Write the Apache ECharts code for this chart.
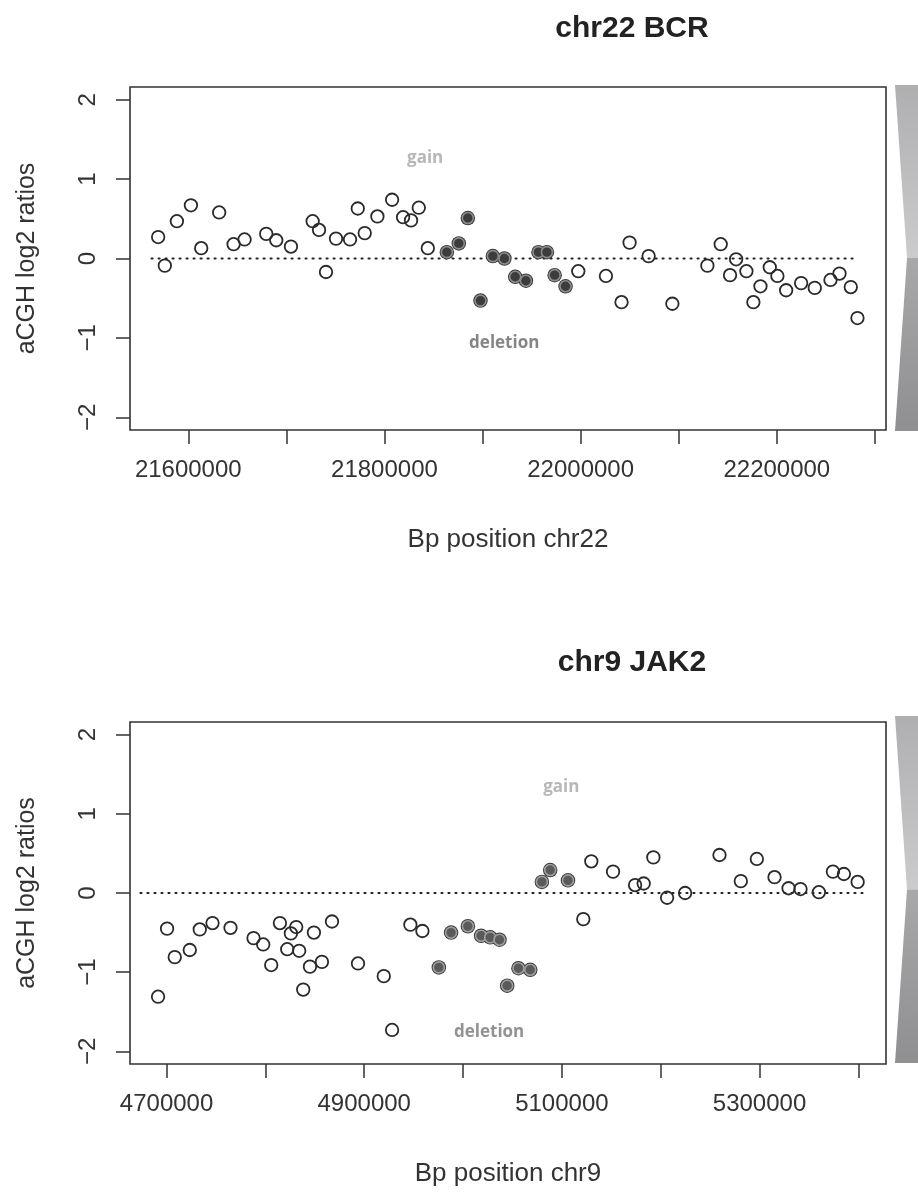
<!DOCTYPE html>
<html>
<head>
<meta charset="utf-8">
<script src="https://cdn.jsdelivr.net/npm/echarts@6/dist/echarts.min.js"></script>
<style>html,body{margin:0;padding:0;background:#fff;}#c{width:918px;height:1192px;}</style>
</head>
<body>
<div id="c"></div>
<script>
// ---------- DATA ----------
// chr22 BCR panel
const bcrOpenX = [21569300, 21576100, 21588400, 21602700, 21613200, 21631500, 21646200, 21657400, 21679500, 21689700, 21704700, 21726800, 21733300, 21740400, 21750600, 21764900, 21772800, 21779900, 21792800, 21807800, 21819000, 21827100, 21835000, 21844200,
  21997600, 22025800, 22041700, 22049900, 22069300, 22093500, 22129200, 22142800, 22152300, 22158500, 22169000, 22176100, 22183300, 22192800, 22200600, 22209500, 22224800, 22238700, 22254700, 22263900, 22275400, 22282200];
const bcrOpenY = [0.27, -0.09, 0.47, 0.67, 0.13, 0.58, 0.18, 0.24, 0.31, 0.23, 0.15, 0.47, 0.36, -0.17, 0.25, 0.24, 0.63, 0.32, 0.53, 0.74, 0.52, 0.48, 0.64, 0.13,
  -0.16, -0.22, -0.55, 0.20, 0.03, -0.57, -0.09, 0.18, -0.21, -0.01, -0.16, -0.55, -0.35, -0.11, -0.22, -0.40, -0.31, -0.37, -0.27, -0.19, -0.36, -0.75];
const bcrFilledX = [21863600, 21875800, 21885000, 21897900, 21910500, 21922300, 21933300, 21944200, 21957000, 21965600, 21973500, 21984600];
const bcrFilledY = [0.08, 0.19, 0.51, -0.53, 0.03, 0.00, -0.23, -0.28, 0.08, 0.08, -0.21, -0.35];
const bcrZeroLineX = [21562600, 22280300];
const bcrXRange = [21540600, 22311300];
const bcrXTicks = [21600000, 21700000, 21800000, 21900000, 22000000, 22100000, 22200000, 22300000];
const bcrXLabels = [21600000, 21800000, 22000000, 22200000];
const bcrAnnotX = [21841500, 21922100];
const bcrAnnotY = [1.27, -1.07];

// chr9 JAK2 panel
const jakOpenX = [4691400, 4700500, 4708300, 4723500, 4733600, 4746500, 4764700, 4788000, 4797800, 4805900, 4814700, 4822100, 4825800, 4831200, 4834200, 4838300, 4845100, 4849100, 4857200, 4867400, 4893700, 4919800, 4928200, 4946700, 4958900,
  5121700, 5129800, 5151800, 5174100, 5182800, 5192600, 5206500, 5224700, 5259500, 5281100, 5297300, 5315200, 5329400, 5341500, 5360100, 5374300, 5385400, 5399300];
const jakOpenY = [-1.31, -0.45, -0.81, -0.72, -0.46, -0.38, -0.44, -0.57, -0.65, -0.91, -0.38, -0.71, -0.51, -0.43, -0.73, -1.22, -0.93, -0.50, -0.87, -0.36, -0.89, -1.05, -1.73, -0.40, -0.48,
  -0.33, 0.40, 0.27, 0.10, 0.12, 0.45, -0.06, 0.00, 0.48, 0.15, 0.43, 0.20, 0.06, 0.05, 0.01, 0.27, 0.24, 0.14];
const jakFilledX = [4975500, 4987900, 5004900, 5018300, 5027500, 5036900, 5044700, 5056100, 5068000, 5079800, 5088200, 5106200];
const jakFilledY = [-0.94, -0.50, -0.42, -0.54, -0.56, -0.59, -1.17, -0.95, -0.97, 0.14, 0.29, 0.16];
const jakZeroLineX = [4673600, 5407400];
const jakXRange = [4663000, 5428000];
const jakXTicks = [4700000, 4800000, 4900000, 5000000, 5100000, 5200000, 5300000, 5400000];
const jakXLabels = [4700000, 4900000, 5100000, 5300000];
const jakAnnotX = [5099400, 5026400];
const jakAnnotY = [1.34, -1.76];

const annotText = ['gain', 'deletion'];
const yTicks = [-2, -1, 0, 1, 2];
const yRange = [-2.16, 2.16];
const titles = ['chr22 BCR', 'chr9 JAK2'];
const xNames = ['Bp position chr22', 'Bp position chr9'];
const yName = 'aCGH log2 ratios';

// ---------- BUILD ----------
const zip = (xs, ys) => xs.map((x, i) => [x, ys[i]]);
const FONT = '"Liberation Sans", Arial, sans-serif';
const TXT = '#333';

function xAxisFor(idx, range, ticks, labels, name) {
  return {
    type: 'value', gridIndex: idx, min: range[0], max: range[1], position: 'bottom',
    axisLine: { show: false, onZero: false },
    splitLine: { show: false },
    axisTick: { show: true, length: 14, customValues: ticks, lineStyle: { color: '#333', width: 1.5 } },
    axisLabel: { customValues: labels, margin: 28, fontSize: 24, fontFamily: FONT, color: TXT, formatter: v => String(Math.round(v)) },
    name: name, nameLocation: 'middle', nameGap: 97,
    nameTextStyle: { fontSize: 26, fontFamily: FONT, color: TXT }
  };
}
function yAxisFor(idx) {
  return {
    type: 'value', gridIndex: idx, min: yRange[0], max: yRange[1], position: 'left',
    axisLine: { show: false, onZero: false },
    splitLine: { show: false },
    axisTick: { show: true, length: 14, customValues: yTicks, lineStyle: { color: '#333', width: 1.5 } },
    axisLabel: { customValues: yTicks, rotate: 90, margin: 30, fontSize: 24, fontFamily: FONT, color: TXT,
      formatter: v => (v < 0 ? '\u2212' + Math.abs(v) : String(v)) },
    name: yName, nameLocation: 'middle', nameGap: 90, nameRotate: 90,
    nameTextStyle: { fontSize: 25, fontFamily: FONT, color: TXT }
  };
}

function panelSeries(idx, openX, openY, filX, filY, zeroX, annX, annY, fillCol, ringCol, annCols) {
  return [
    { type: 'line', xAxisIndex: idx, yAxisIndex: idx, data: zeroX.map(x => [x, 0]), symbol: 'none', silent: true,
      lineStyle: { color: '#222', width: 2.2, type: [1, 6], cap: 'round' }, z: 1 },
    { type: 'scatter', xAxisIndex: idx, yAxisIndex: idx, data: zip(openX, openY), symbol: 'circle', symbolSize: 12.5,
      itemStyle: { color: 'rgba(0,0,0,0)', borderColor: '#2a2a2a', borderWidth: 1.8, opacity: 1 }, z: 3 },
    { type: 'scatter', xAxisIndex: idx, yAxisIndex: idx, data: zip(filX, filY), symbol: 'circle', symbolSize: 14.5,
      itemStyle: { color: '#3a3a3a', opacity: 1 }, z: 4 },
    { type: 'scatter', xAxisIndex: idx, yAxisIndex: idx, data: zip(filX, filY), symbol: 'circle', symbolSize: 11,
      itemStyle: { color: fillCol, borderColor: ringCol, borderWidth: 1.6, opacity: 1 }, z: 5 },
    { type: 'scatter', xAxisIndex: idx, yAxisIndex: idx, symbolSize: 0, silent: true, z: 6,
      data: annX.map((x, i) => ({ value: [x, annY[i]], label: { color: annCols[i] } })),
      label: { show: true, position: 'inside', fontFamily: '"Open Sans", "Noto Sans", sans-serif', fontWeight: 'bold', fontSize: 17,
        formatter: p => annotText[p.dataIndex] } }
  ];
}

function bowtie(topY, botY) {
  const midY = (topY + botY) / 2;
  return [
    { type: 'polygon', shape: { points: [[895, topY], [918, topY], [918, midY], [907, midY]] },
      style: { fill: new echarts.graphic.LinearGradient(0, 0, 0, 1, [{ offset: 0, color: '#afafb1' }, { offset: 1, color: '#cbcbcd' }]) } },
    { type: 'polygon', shape: { points: [[907, midY], [918, midY], [918, botY], [895, botY]] },
      style: { fill: new echarts.graphic.LinearGradient(0, 0, 0, 1, [{ offset: 0, color: '#a8a8aa' }, { offset: 1, color: '#8f8f91' }]) } }
  ];
}

const chart = echarts.init(document.getElementById('c'), null, { renderer: 'canvas' });
chart.setOption({
  backgroundColor: '#fff',
  animation: false,
  title: [
    { text: titles[0], left: 627, top: 9, textAlign: 'center', textStyle: { fontFamily: FONT, fontWeight: 'bold', fontSize: 30, color: '#222' } },
    { text: titles[1], left: 627, top: 643, textAlign: 'center', textStyle: { fontFamily: FONT, fontWeight: 'bold', fontSize: 30, color: '#222' } }
  ],
  grid: [
    { left: 130, top: 87, width: 756, height: 343, show: true, borderColor: '#333', borderWidth: 1.6, backgroundColor: 'rgba(0,0,0,0)', outerBoundsMode: 'none', containLabel: false },
    { left: 130, top: 722, width: 756, height: 342, show: true, borderColor: '#333', borderWidth: 1.6, backgroundColor: 'rgba(0,0,0,0)', outerBoundsMode: 'none', containLabel: false }
  ],
  xAxis: [
    xAxisFor(0, bcrXRange, bcrXTicks, bcrXLabels, xNames[0]),
    xAxisFor(1, jakXRange, jakXTicks, jakXLabels, xNames[1])
  ],
  yAxis: [yAxisFor(0), yAxisFor(1)],
  series: [].concat(
    panelSeries(0, bcrOpenX, bcrOpenY, bcrFilledX, bcrFilledY, bcrZeroLineX, bcrAnnotX, bcrAnnotY, '#3c3c3c', '#8c8c8c', ['#a5a5a5', '#666666']),
    panelSeries(1, jakOpenX, jakOpenY, jakFilledX, jakFilledY, jakZeroLineX, jakAnnotX, jakAnnotY, '#5a5a5a', '#a0a0a0', ['#a5a5a5', '#777777'])
  ),
  graphic: [].concat(bowtie(85, 431), bowtie(716, 1063))
});
</script>
</body>
</html>
